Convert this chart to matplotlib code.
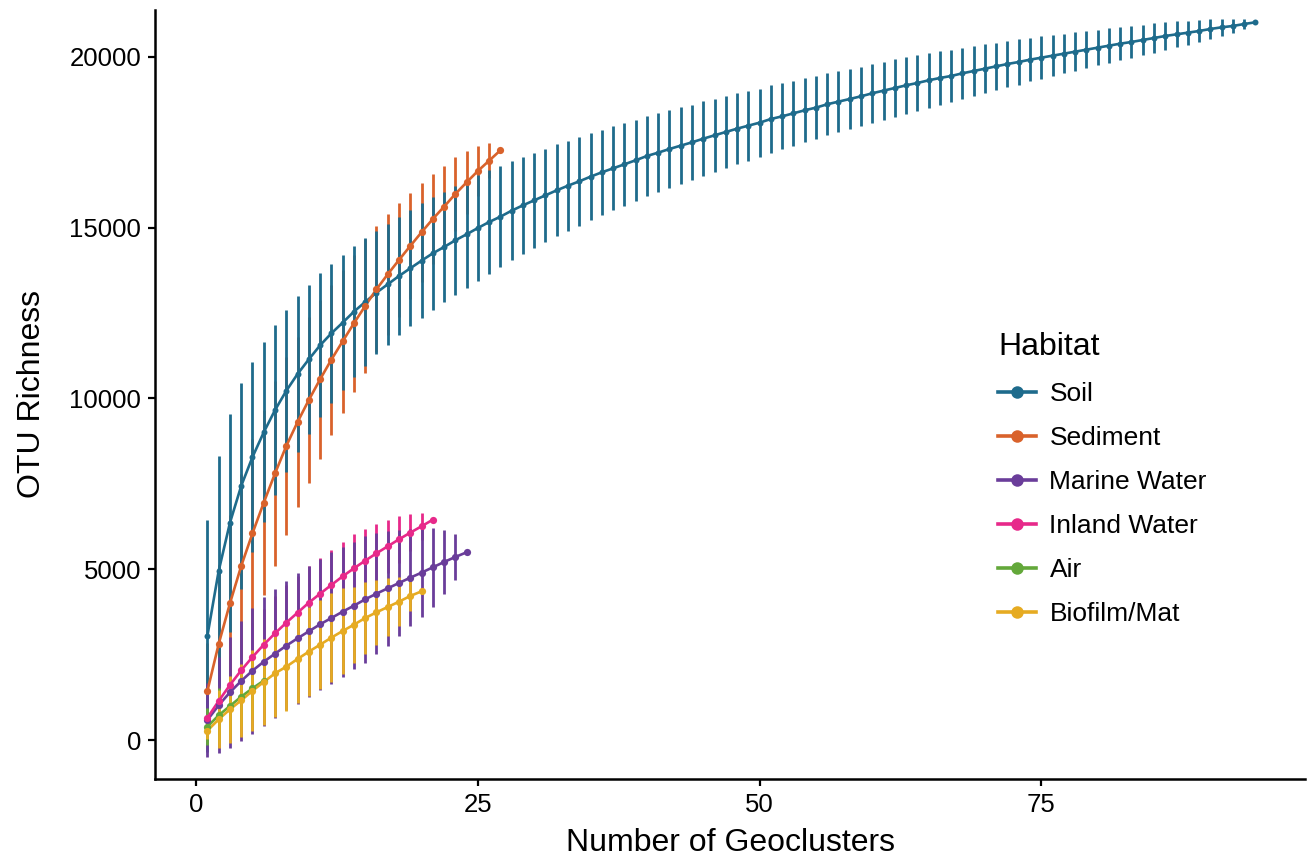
import numpy as np
import matplotlib
matplotlib.use("Agg")
import matplotlib.pyplot as plt
from matplotlib.lines import Line2D

plt.rcParams['font.family'] = ['Liberation Sans', 'DejaVu Sans']

# mean OTU richness and sd per number of geoclusters
soil_mean = [3050, 4950, 6360, 7440, 8285, 9010, 9660, 10225, 10717, 11147,
             11557, 11908, 12220, 12543, 12826, 13099, 13343, 13587, 13812, 14036,
             14251, 14436, 14632, 14808, 14992, 15168, 15324,
             15500, 15657, 15803, 15950, 16096, 16232, 16359, 16496, 16623, 16740,
             16857, 16975, 17101, 17199, 17306, 17404, 17501, 17608, 17706, 17804,
             17901, 17989, 18077, 18184, 18262, 18351, 18439, 18517, 18615, 18693,
             18770, 18849, 18937,
             19015, 19092, 19170, 19239, 19317, 19385, 19444, 19522, 19590, 19658,
             19727, 19795, 19854, 19922, 19980, 20039, 20097, 20156, 20214, 20273,
             20331, 20390, 20439, 20498, 20556, 20615, 20664, 20712, 20761, 20820,
             20869, 20908, 20966, 21016]
soil_sd = [3400, 3370, 3190, 3010, 2780, 2630, 2490, 2370, 2280, 2190,
           2110, 2030, 1980, 1920, 1860, 1810, 1770, 1740, 1700, 1680,
           1650, 1620, 1600, 1580, 1560, 1530, 1480, 1440, 1420, 1390,
           1370, 1350, 1320, 1300, 1270, 1250, 1230, 1210, 1190, 1170,
           1150, 1130, 1120, 1100, 1090, 1070, 1050, 1040, 1020, 1000,
           990, 970, 960, 940, 930, 910, 900, 890, 870, 860,
           850, 845, 830, 815, 800, 780, 765, 755, 740, 720,
           695, 680, 660, 635, 625, 600, 580, 565, 545, 520,
           505, 490, 465, 450, 430, 410, 380, 355, 330, 290,
           245, 210, 145, 0]

sediment_mean = [1435, 2811, 4002, 5095, 6052, 6950, 7805, 8609, 9312, 9956,
                 10562, 11137, 11674, 12201, 12709, 13197, 13636, 14056, 14466, 14866,
                 15256, 15617, 15988, 16330, 16662, 16964, 17268]
sediment_sd = [1400, 2300, 2600, 2700, 2750, 2700, 2720, 2600, 2480, 2420,
               2330, 2200, 2090, 2000, 1950, 1850, 1770, 1660, 1540, 1450,
               1320, 1200, 1070, 920, 740, 510, 0]

marine_mean = [585, 1016, 1396, 1728, 2030, 2293, 2528, 2762, 2977, 3182,
               3387, 3572, 3758, 3933, 4119, 4284, 4441, 4597, 4753, 4900,
               5056, 5212, 5359, 5496]
marine_sd = [1075, 1400, 1620, 1760, 1840, 1886, 1885, 1890, 1920, 1910,
             1920, 1930, 1900, 1865, 1850, 1770, 1680, 1550, 1415, 1290,
             1150, 950, 660, 0]

inland_mean = [650, 1142, 1611, 2040, 2430, 2791, 3124, 3435, 3728, 4021,
               4284, 4539, 4792, 5027, 5251, 5466, 5671, 5876, 6071, 6257, 6451]
inland_sd = [450, 700, 850, 950, 1000, 1050, 1080, 1100, 1080, 1060,
             1040, 1020, 1010, 1000, 920, 860, 770, 680, 550, 400, 0]

air_mean = [389, 723, 996, 1268, 1514, 1737]
air_sd = [540, 800, 850, 850, 800, 700]

biofilm_mean = [273, 605, 898, 1161, 1440, 1700, 1952, 2147, 2372, 2587,
                2791, 2997, 3192, 3377, 3572, 3738, 3894, 4050, 4217, 4353]
biofilm_sd = [250, 850, 975, 1060, 1190, 1250, 1270, 1285, 1300, 1310,
              1310, 1300, 1250, 1110, 1050, 950, 860, 710, 430, 0]

habitats = ['Soil', 'Sediment', 'Marine Water', 'Inland Water', 'Air', 'Biofilm/Mat']
colors = ['#1E6B8C', '#D9622B', '#6A3D9A', '#E7298A', '#63A83A', '#E6AB22']
means = [soil_mean, sediment_mean, marine_mean, inland_mean, air_mean, biofilm_mean]
sds = [soil_sd, sediment_sd, marine_sd, inland_sd, air_sd, biofilm_sd]
# stacking of the error bars as it appears in the figure
bar_order = {'Inland Water': 1.0, 'Sediment': 1.1, 'Soil': 1.2,
             'Marine Water': 1.3, 'Air': 1.4, 'Biofilm/Mat': 1.5}

fig = plt.figure(figsize=(13.1, 8.58), dpi=100)
ax = fig.add_axes([155 / 1310, 1 - 779 / 858, 1150 / 1310, 769 / 858])

for name, col, m, s in zip(habitats, colors, means, sds):
    m = np.array(m, dtype=float)
    s = np.array(s, dtype=float)
    x = np.arange(1, len(m) + 1)
    ms = 4.3 if name == 'Soil' else 5.2
    ax.vlines(x, m - s, m + s, color=col, lw=2.0, zorder=bar_order[name])
    ax.plot(x, m, color=col, lw=1.9, zorder=3)
    ax.plot(x, m, 'o', color=col, ms=ms, mew=0, zorder=4)

ax.set_xlim(-3.65, 98.4)
ax.set_ylim(-1142, 21376)
ax.set_xticks([0, 25, 50, 75])
ax.set_yticks([0, 5000, 10000, 15000, 20000])

for side in ['top', 'right']:
    ax.spines[side].set_visible(False)
for side in ['left', 'bottom']:
    ax.spines[side].set_linewidth(1.8)
ax.tick_params(axis='both', length=5, width=1.6, labelsize=18.5, pad=5, color='black')

ax.set_xlabel('Number of Geoclusters', fontsize=23, labelpad=8)
ax.set_ylabel('OTU Richness', fontsize=23, labelpad=16)

handles = [Line2D([0], [0], color=c, lw=2.6, marker='o', ms=9, mew=0) for c in colors]
leg = fig.legend(handles, habitats, title='Habitat', loc='upper left',
                 bbox_to_anchor=(998 / 1310, 1 - 332 / 858), frameon=False,
                 fontsize=19, title_fontsize=23, handlelength=1.45,
                 handletextpad=0.5, labelspacing=0.76, borderpad=0,
                 borderaxespad=0, alignment='left')

fig.savefig('out.png', dpi=100, facecolor='white')
